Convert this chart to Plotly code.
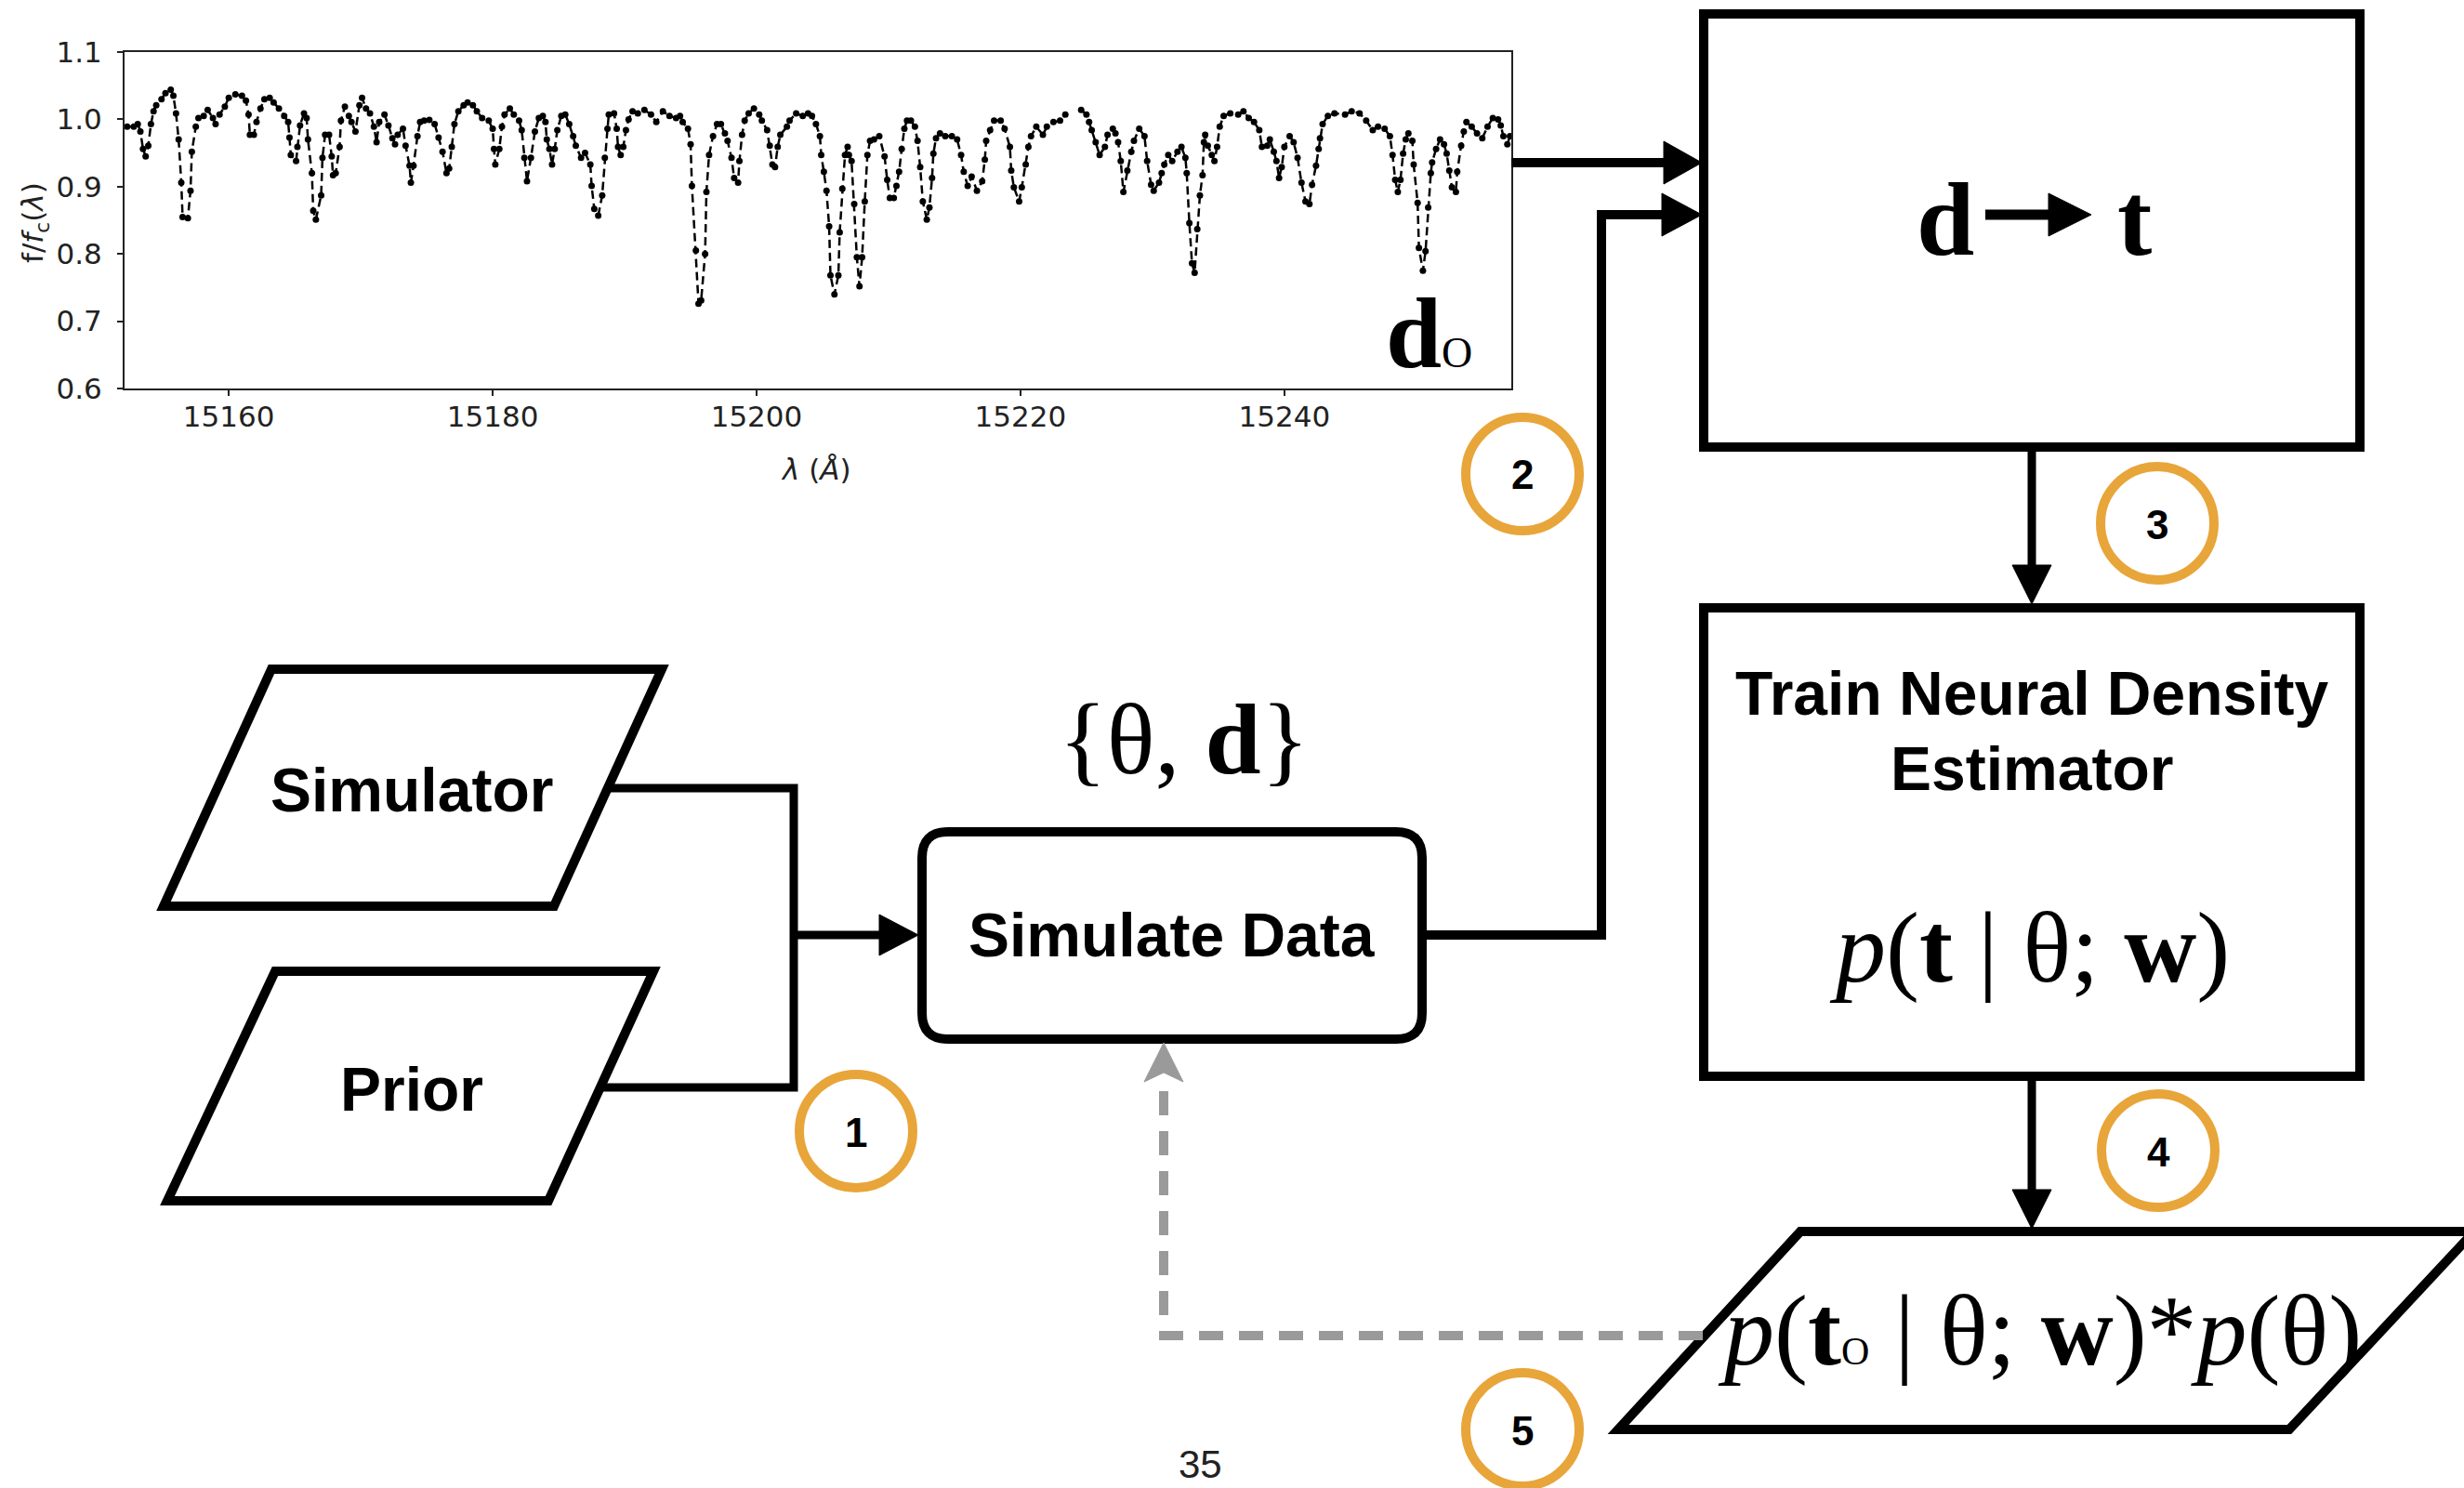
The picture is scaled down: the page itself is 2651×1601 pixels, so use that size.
import plotly.graph_objects as go

# ---------------- data ----------------
wl_seg1 = [15152.3, 15152.8, 15153.1, 15153.3, 15153.5, 15153.7, 15153.9, 15154.1, 15154.3, 15154.5,
           15154.9, 15155.2, 15155.6, 15155.8, 15156.0, 15156.2, 15156.4, 15156.5, 15156.9, 15157.1,
           15157.2, 15157.5, 15157.7, 15158.1, 15158.4, 15158.8, 15159.0, 15159.3, 15159.7, 15160.0,
           15160.5, 15161.0, 15161.3, 15161.5, 15161.6, 15161.9, 15162.1, 15162.4, 15162.7, 15163.1,
           15163.4, 15163.8, 15164.2, 15164.5, 15164.6, 15164.7, 15165.1, 15165.2, 15165.4, 15165.7,
           15165.9, 15166.0, 15166.3, 15166.4, 15166.6, 15167.0, 15167.1, 15167.3, 15167.6, 15167.8,
           15167.9, 15168.1, 15168.4, 15168.5, 15168.8, 15169.1, 15169.3, 15169.6, 15169.9, 15170.1,
           15170.4, 15170.7, 15171.0, 15171.2, 15171.4, 15171.8, 15172.1, 15172.4, 15172.6, 15172.8,
           15173.2, 15173.4, 15173.7, 15173.8, 15174.0, 15174.3, 15174.5, 15174.8, 15175.2, 15175.6,
           15175.9, 15176.2, 15176.5, 15176.7, 15176.9, 15177.1, 15177.4, 15177.8, 15178.1, 15178.5]
fx_seg1 = [0.989, 0.989, 0.993, 0.982, 0.956, 0.945, 0.961, 0.993, 1.012, 1.021,
           1.030, 1.039, 1.044, 1.035, 1.009, 0.970, 0.906, 0.855, 0.853, 0.894,
           0.952, 0.989, 1.002, 1.005, 1.014, 1.002, 0.993, 1.007, 1.019, 1.032,
           1.037, 1.035, 1.028, 1.007, 0.977, 0.977, 0.996, 1.016, 1.030, 1.032,
           1.025, 1.016, 1.005, 0.996, 0.973, 0.947, 0.938, 0.959, 0.991, 1.009,
           1.002, 0.970, 0.920, 0.864, 0.851, 0.887, 0.943, 0.977, 0.977, 0.945,
           0.917, 0.920, 0.959, 0.998, 1.019, 1.005, 0.996, 0.982, 1.021, 1.032,
           1.016, 1.009, 0.989, 0.966, 0.996, 1.007, 0.991, 0.972, 0.963, 0.977,
           0.986, 0.961, 0.931, 0.906, 0.931, 0.975, 0.996, 0.998, 0.999, 0.993,
           0.973, 0.952, 0.920, 0.927, 0.959, 0.993, 1.012, 1.021, 1.025, 1.021]

wl_seg2 = [15178.8, 15179.2, 15179.7, 15180.0, 15180.1, 15180.2, 15180.5, 15180.7, 15180.9, 15181.3,
           15181.6, 15182.0, 15182.2, 15182.4, 15182.6, 15182.9, 15183.2, 15183.5, 15183.8, 15184.0,
           15184.1, 15184.3, 15184.5, 15184.7, 15184.9, 15185.2, 15185.5, 15185.8, 15186.1, 15186.3,
           15186.7, 15187.0, 15187.4, 15187.5, 15187.7, 15188.0, 15188.3, 15188.5, 15188.7, 15188.8,
           15189.2, 15189.4, 15189.5, 15189.7, 15189.9, 15190.1, 15190.3, 15190.6, 15191.0, 15191.5,
           15192.0, 15192.4, 15192.9, 15193.4, 15193.9, 15194.2, 15194.4, 15194.8, 15195.0, 15195.1,
           15195.4, 15195.6, 15195.8, 15196.1, 15196.2, 15196.4, 15196.7, 15197.0, 15197.3, 15197.6,
           15197.8, 15198.1, 15198.3, 15198.6, 15198.7, 15198.9, 15199.1, 15199.4, 15199.8, 15200.2,
           15200.4, 15200.8, 15201.0, 15201.2, 15201.4, 15201.6, 15201.8, 15202.3, 15202.5, 15203.0,
           15203.5, 15203.9]
fx_seg2 = [1.012, 1.002, 0.998, 0.986, 0.956, 0.933, 0.956, 0.989, 1.007, 1.016,
           1.007, 0.998, 0.984, 0.943, 0.908, 0.943, 0.982, 1.002, 1.005, 0.996,
           0.970, 0.956, 0.933, 0.956, 0.984, 1.005, 1.007, 0.993, 0.975, 0.961,
           0.943, 0.950, 0.933, 0.901, 0.867, 0.857, 0.887, 0.943, 0.986, 1.007,
           1.009, 0.986, 0.959, 0.947, 0.959, 0.984, 1.000, 1.012, 1.009, 1.014,
           1.007, 0.996, 1.012, 1.005, 1.002, 1.005, 0.996, 0.986, 0.963, 0.901,
           0.805, 0.726, 0.731, 0.800, 0.892, 0.947, 0.975, 0.993, 0.993, 0.979,
           0.968, 0.943, 0.913, 0.906, 0.938, 0.977, 0.998, 1.009, 1.016, 1.007,
           0.998, 0.984, 0.961, 0.933, 0.929, 0.959, 0.977, 0.989, 0.998, 1.009,
           1.005, 1.009]

wl_seg3 = [15204.2, 15204.5, 15204.8, 15204.9, 15205.1, 15205.3, 15205.5, 15205.6, 15205.9, 15206.2,
           15206.3, 15206.5, 15206.7, 15206.9, 15207.0, 15207.2, 15207.4, 15207.6, 15207.8, 15208.0,
           15208.2, 15208.4, 15208.6, 15208.9, 15209.3, 15209.7, 15209.9, 15210.1, 15210.4, 15210.6,
           15210.8, 15211.0, 15211.2, 15211.4, 15211.7, 15212.0, 15212.2, 15212.4, 15212.6, 15212.9,
           15213.1, 15213.3, 15213.4, 15213.6, 15213.9, 15214.3, 15214.8, 15215.2, 15215.5, 15215.7,
           15216.0, 15216.3, 15216.7, 15217.1, 15217.3, 15217.4, 15217.7, 15218.0, 15218.5, 15218.8,
           15219.2, 15219.3, 15219.5, 15219.9, 15220.1, 15220.4, 15220.6, 15220.8, 15221.2, 15221.7,
           15222.0, 15222.5, 15223.0, 15223.4, 15224.0, 15224.6, 15225.0, 15225.2, 15225.4, 15225.7,
           15226.0, 15226.4, 15226.6, 15227.0, 15227.2, 15227.4, 15227.6, 15227.8, 15228.1, 15228.4,
           15228.6, 15229.0, 15229.4, 15229.6, 15229.9, 15230.1, 15230.5, 15230.7]
fx_seg3 = [1.005, 0.993, 0.975, 0.947, 0.922, 0.894, 0.841, 0.768, 0.740, 0.768,
           0.832, 0.897, 0.947, 0.959, 0.947, 0.938, 0.874, 0.795, 0.752, 0.795,
           0.878, 0.947, 0.968, 0.970, 0.975, 0.945, 0.910, 0.883, 0.883, 0.901,
           0.922, 0.956, 0.986, 0.998, 0.998, 0.989, 0.968, 0.929, 0.878, 0.851,
           0.869, 0.913, 0.949, 0.972, 0.979, 0.975, 0.975, 0.970, 0.947, 0.922,
           0.901, 0.915, 0.894, 0.908, 0.940, 0.968, 0.984, 0.998, 0.998, 0.986,
           0.959, 0.924, 0.899, 0.878, 0.899, 0.933, 0.959, 0.975, 0.989, 0.977,
           0.989, 0.996, 0.998, 1.007, None, 1.014, 1.007, 0.996, 0.984, 0.966,
           0.947, 0.959, 0.977, 0.986, 0.979, 0.966, 0.938, 0.892, 0.924, 0.952,
           0.968, 0.986, 0.975, 0.938, 0.903, 0.894, 0.906, 0.920]

wl_seg4 = [15230.9, 15231.2, 15231.5, 15231.9, 15232.2, 15232.5, 15232.6, 15232.8, 15233.0, 15233.2,
           15233.4, 15233.6, 15233.8, 15233.9, 15234.0, 15234.2, 15234.5, 15234.7, 15234.9, 15235.1,
           15235.4, 15235.9, 15236.5, 15236.9, 15237.3, 15237.7, 15238.1, 15238.3, 15238.7, 15238.9,
           15239.2, 15239.4, 15239.6, 15239.8, 15240.0, 15240.4, 15240.7, 15241.0, 15241.3, 15241.6,
           15241.9, 15242.1, 15242.4, 15242.6, 15242.7, 15242.9, 15243.3, 15243.8, 15244.6, 15245.1,
           15245.7, 15246.2, 15246.7, 15247.1, 15247.6, 15248.0, 15248.2, 15248.4, 15248.6, 15248.8,
           15249.0, 15249.2, 15249.4, 15249.7, 15249.8, 15250.1, 15250.2, 15250.5, 15250.7, 15250.9,
           15251.1, 15251.2, 15251.5, 15251.8, 15252.1, 15252.3, 15252.5, 15252.7, 15253.0, 15253.1,
           15253.4, 15253.6, 15253.8, 15254.2, 15254.6, 15255.0, 15255.4, 15255.8, 15256.2, 15256.4,
           15256.6, 15256.9, 15257.1]
fx_seg4 = [0.933, 0.947, 0.938, 0.952, 0.959, 0.943, 0.920, 0.846, 0.786, 0.772,
           0.837, 0.887, 0.917, 0.966, 0.977, 0.961, 0.947, 0.938, 0.959, 0.989,
           1.005, 1.009, 1.007, 1.012, 1.002, 0.996, 0.984, 0.959, 0.961, 0.970,
           0.952, 0.938, 0.913, 0.929, 0.959, 0.975, 0.966, 0.943, 0.906, 0.878,
           0.874, 0.903, 0.931, 0.956, 0.972, 0.993, 1.005, 1.009, 1.007, 1.012,
           1.009, 0.998, 0.984, 0.989, 0.986, 0.975, 0.947, 0.910, 0.892, 0.910,
           0.949, 0.970, 0.979, 0.968, 0.933, 0.876, 0.809, 0.775, 0.804, 0.869,
           0.920, 0.936, 0.956, 0.970, 0.963, 0.949, 0.924, 0.899, 0.892, 0.922,
           0.961, 0.982, 0.996, 0.989, 0.979, 0.972, 0.989, 1.002, 1.000, 0.991,
           0.975, 0.963, 0.975]

x_ticks = [15160, 15180, 15200, 15220, 15240]
y_ticks = [0.6, 0.7, 0.8, 0.9, 1.0, 1.1]
x_range = [15152.1, 15257.2]
y_range = [0.6, 1.1]
step_numbers = ["1", "2", "3", "4", "5"]

wavelength = wl_seg1 + wl_seg2 + wl_seg3 + wl_seg4
flux = fx_seg1 + fx_seg2 + fx_seg3 + fx_seg4

# ---------------- helpers (pixel -> paper) ----------------
W, H = 2651, 1601
def X(p): return p / W
def Y(p): return 1 - p / H

BLACK = "#000000"
ORANGE = "#E8A53A"
GRAY = "#9a9a9a"
SERIF = "Liberation Serif"
SANS = "Liberation Sans"
MPL = "DejaVu Sans"

shapes = []
annotations = []

def seg(x0, y0, x1, y1, w=9, color=BLACK, dash=None):
    ln = dict(color=color, width=w)
    if dash:
        ln["dash"] = dash
    shapes.append(dict(type="line", xref="paper", yref="paper",
                       x0=X(x0), y0=Y(y0), x1=X(x1), y1=Y(y1), line=ln))

def poly(pts, closed=True, w=10, color=BLACK, fill=None, dash=None):
    d = "M " + " L ".join(f"{X(a):.6f},{Y(b):.6f}" for a, b in pts)
    if closed:
        d += " Z"
    ln = dict(color=color, width=w)
    if dash:
        ln["dash"] = dash
    shapes.append(dict(type="path", xref="paper", yref="paper", path=d, line=ln,
                       fillcolor=fill if fill else "rgba(0,0,0,0)"))

def rect(x0, y0, x1, y1, w=10):
    shapes.append(dict(type="rect", xref="paper", yref="paper",
                       x0=X(x0), y0=Y(y1), x1=X(x1), y1=Y(y0),
                       line=dict(color=BLACK, width=w), fillcolor="rgba(0,0,0,0)"))

def roundrect(x0, y0, x1, y1, r, w=10):
    P = lambda a, b: f"{X(a):.6f},{Y(b):.6f}"
    d = (f"M {P(x0+r,y0)} L {P(x1-r,y0)} Q {P(x1,y0)} {P(x1,y0+r)} "
         f"L {P(x1,y1-r)} Q {P(x1,y1)} {P(x1-r,y1)} L {P(x0+r,y1)} "
         f"Q {P(x0,y1)} {P(x0,y1-r)} L {P(x0,y0+r)} Q {P(x0,y0)} {P(x0+r,y0)} Z")
    shapes.append(dict(type="path", xref="paper", yref="paper", path=d,
                       line=dict(color=BLACK, width=w), fillcolor="rgba(0,0,0,0)"))

def circle(cx, cy, r, w=10):
    shapes.append(dict(type="circle", xref="paper", yref="paper",
                       x0=X(cx - r), x1=X(cx + r), y0=Y(cy + r), y1=Y(cy - r),
                       line=dict(color=ORANGE, width=w), fillcolor="rgba(0,0,0,0)"))

def text(x, y, s, size, family, color=BLACK, xanchor="center", yanchor="middle", angle=0):
    annotations.append(dict(x=X(x), y=Y(y), xref="paper", yref="paper", text=s,
                            showarrow=False, textangle=angle,
                            font=dict(size=size, family=family, color=color),
                            xanchor=xanchor, yanchor=yanchor))

# ---------------- flow chart ----------------
# spectrum -> d->t box
seg(1626, 175, 1796, 175, w=10)
poly([(1790, 152), (1831, 175), (1790, 198)], w=1, fill=BLACK)
# simulate data -> d->t box
poly([(1530, 1006), (1723, 1006), (1723, 231), (1792, 231)], closed=False, w=10)
poly([(1788, 208), (1831, 231), (1788, 254)], w=1, fill=BLACK)

# boxes
rect(1833, 15, 2539, 481)
rect(1833, 654, 2539, 1158)
roundrect(992, 895, 1530, 1118, 28)

# parallelograms
poly([(292, 720), (712, 720), (596, 975), (176, 975)])
poly([(296, 1045), (703, 1045), (590, 1292), (180, 1292)])
poly([(1937, 1325), (2662, 1325), (2463, 1538), (1741, 1538)])

# simulator / prior connectors
poly([(655, 848), (854, 848), (854, 1170), (646, 1170)], closed=False, w=9)
seg(854, 1006, 950, 1006, w=9)
poly([(946, 984), (988, 1006), (946, 1028)], w=1, fill=BLACK)

# vertical arrows on the right
seg(2186, 481, 2186, 612, w=9)
poly([(2165, 608), (2186, 650), (2207, 608)], w=1, fill=BLACK)
seg(2186, 1158, 2186, 1284, w=9)
poly([(2165, 1280), (2186, 1322), (2207, 1280)], w=1, fill=BLACK)

# dashed feedback loop
poly([(1832, 1437), (1252, 1437), (1252, 1160)], closed=False, w=10, color=GRAY, dash="26px,17px")
poly([(1252, 1122), (1273, 1164), (1252, 1154), (1231, 1164)], w=1, color=GRAY, fill=GRAY)

# d -> t arrow glyph
seg(2136, 231, 2208, 231, w=11)
poly([(2204, 208), (2250, 231), (2204, 254)], w=1, fill=BLACK)

# step circles
circle_centers = [(921, 1217), (1638, 510), (2321, 563), (2322, 1238), (1638, 1538)]
for (cx, cy), lab in zip(circle_centers, step_numbers):
    circle(cx, cy, 61)
    text(cx, cy + 1, f"<b>{lab}</b>", 44, SANS)

# texts
text(443, 850, "<b>Simulator</b>", 66, SANS)
text(443, 1172, "<b>Prior</b>", 66, SANS)
text(1261, 1006, "<b>Simulate Data</b>", 66, SANS)
text(2186, 746, "<b>Train Neural Density</b>", 66, SANS)
text(2186, 827, "<b>Estimator</b>", 66, SANS)
text(1274, 795, "{θ, <b>d</b>}", 108, SERIF)
text(2093, 236, "<b>d</b>", 112, SERIF)
text(2296, 236, "<b>t</b>", 112, SERIF)
text(2183, 1020, "<i>p</i>(<b>t</b> | θ; <b>w</b>)", 108, SERIF)
text(2194, 1432, "<i>p</i>(<b>t</b><span style='font-size:42px'>O</span> | θ; <b>w</b>)*<i>p</i>(θ)", 108, SERIF)
text(1537, 358, "<b>d</b><span style='font-size:46px'>O</span>", 108, SERIF)
text(1291, 1601, "35", 42, SANS, color="#222222", yanchor="bottom")

# spectrum axis titles
text(37, 240, "f/<i>f</i><sub>c</sub>(<i>λ</i>)", 31, MPL, color="#222222", angle=-90)
text(878, 505, "<i>λ</i> (<i>Å</i>)", 31, MPL, color="#222222")

# ---------------- figure ----------------
fig = go.Figure()
fig.add_trace(go.Scatter(
    x=wavelength, y=flux, mode="lines+markers", connectgaps=False,
    line=dict(color="black", width=2.5, dash="9px,5px"),
    marker=dict(size=7, color="black"),
    showlegend=False, hoverinfo="skip"))

axis_common = dict(showgrid=False, zeroline=False, showline=True, mirror=True,
                   linecolor="#222222", linewidth=2, ticks="outside", ticklen=6,
                   tickwidth=2, tickcolor="#222222",
                   tickfont=dict(family=MPL, size=31, color="#222222"),
                   automargin=False)

fig.update_layout(
    template="none",
    width=W, height=H, autosize=False,
    margin=dict(l=0, r=0, t=0, b=0, pad=0),
    paper_bgcolor="white", plot_bgcolor="white",
    xaxis=dict(domain=[X(134), X(1626)], range=x_range, tickvals=x_ticks,
               ticktext=[str(v) for v in x_ticks], ticklabelstandoff=-4, **axis_common),
    yaxis=dict(domain=[Y(418), Y(56)], range=y_range, tickvals=y_ticks,
               ticktext=[f"{v:.1f}" for v in y_ticks], ticklabelstandoff=10, **axis_common),
    shapes=shapes,
    annotations=annotations,
    showlegend=False,
)

fig.write_html("out.html")
